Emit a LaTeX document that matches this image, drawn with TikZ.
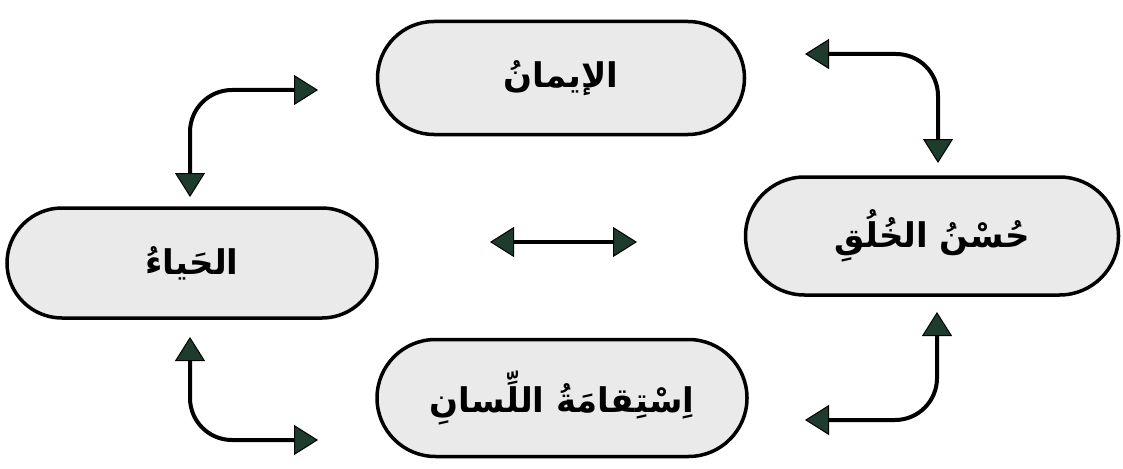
\documentclass[tikz,border=0pt]{standalone}
\usepackage{fontspec}
\TeXXeTstate=1
\newfontfamily\arabicfont[Script=Arabic]{DejaVu Sans}
\usetikzlibrary{arrows.meta,shapes.misc}
\definecolor{pillfill}{RGB}{234,234,234}
\definecolor{tipgreen}{RGB}{30,60,45}
\tikzset{
  pill/.style={rounded rectangle, draw=black, line width=3.5pt, fill=pillfill,
    inner sep=0pt, font=\arabicfont\bfseries\fontsize{34}{40}\selectfont},
  biarrow/.style={line width=4pt, draw=black,
    {Triangle[width=30pt,length=24pt,fill=tipgreen,line width=1pt]}-{Triangle[width=30pt,length=24pt,fill=tipgreen,line width=1pt]}},
  elbow/.style={rounded corners=42pt}
}
\begin{document}
\begin{tikzpicture}[x=1pt,y=-1pt]
\useasboundingbox[fill=white] (0,0) rectangle (1123,468);
\node[pill, minimum width=367pt, minimum height=113pt] (iman) at (561,78) {\beginR الإيمانُ\endR};
\node[pill, minimum width=370pt, minimum height=110pt] (haya) at (192,263) {\beginR الحَياءُ\endR};
\node[pill, minimum width=373pt, minimum height=118pt] (khuluq) at (932,236) {\beginR حُسْنُ الخُلُقِ\endR};
\node[pill, minimum width=370pt, minimum height=117pt] (lisan) at (562,398) {\beginR اِسْتِقامَةُ اللِّسانِ\endR};
% free ends of the connectors
\coordinate (tla) at (190,197);
\coordinate (tlb) at (318,90);
\coordinate (tra) at (805,54);
\coordinate (trb) at (938,163);
\coordinate (bla) at (190,337);
\coordinate (blb) at (318,440);
\coordinate (bra) at (937,312);
\coordinate (brb) at (805,420);
\coordinate (ma) at (490,242);
\coordinate (mb) at (637,242);
\draw[biarrow, elbow] (tla) |- (tlb);
\draw[biarrow, elbow] (tra) -| (trb);
\draw[biarrow, elbow] (bla) |- (blb);
\draw[biarrow, elbow] (bra) |- (brb);
\draw[biarrow] (ma) -- (mb);
\end{tikzpicture}
\end{document}
